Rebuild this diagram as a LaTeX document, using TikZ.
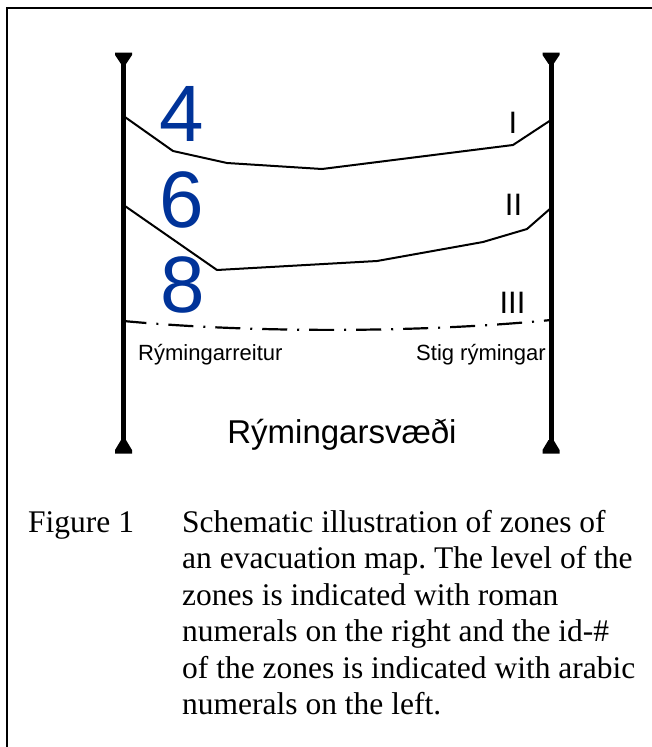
\documentclass[tikz,border=0pt]{standalone}
\usepackage{fontspec}
\setmainfont{Liberation Serif}
\newfontfamily\arialfont{Liberation Sans}
\definecolor{zoneblue}{RGB}{0,51,153}
\frenchspacing
\begin{document}
\begin{tikzpicture}[x=1pt,y=-1pt,
  post/.style={line width=5pt},
  tipfill/.style={fill=black,draw=none},
  zoneline/.style={line width=2pt,line join=round},
  boundary/.style={line width=2.2pt,dash pattern=on 25pt off 10pt on 2pt off 10pt,dash phase=2pt},
  zoneid/.style={font=\arialfont\fontsize{80}{80}\selectfont,text=zoneblue,inner sep=0pt,anchor=base},
  zonelevel/.style={font=\arialfont\fontsize{31}{31}\selectfont,inner sep=0pt,anchor=base},
  smalllabel/.style={font=\arialfont\fontsize{22}{22}\selectfont,inner sep=0pt},
  biglabel/.style={font=\arialfont\fontsize{33}{33}\selectfont,inner sep=0pt,anchor=base},
  captext/.style={font=\fontsize{31.5}{36.5}\selectfont,inner sep=0pt,anchor=base west}]
\useasboundingbox (0,0) rectangle (652,747);
% frame
\draw[line width=2.5pt] (7,747) -- (7,8) -- (652,8);
% posts
\coordinate (LT) at (123.5,53);
\coordinate (LB) at (123.5,453);
\coordinate (RT) at (551,53);
\coordinate (RB) at (551,453);
\draw[post] (LT) -- (LB);
\draw[post] (RT) -- (RB);
\foreach \px in {123.5,551}{
  \fill[tipfill] (\px-8.5,52.5) -- (\px+8.5,52.5) -- (\px+8.5,55) -- (\px+2.5,64) -- (\px-2.5,64) -- (\px-8.5,55) -- cycle;
  \fill[tipfill] (\px-2.5,440) -- (\px+2.5,440) -- (\px+8.5,450) -- (\px+8.5,453.5) -- (\px-8.5,453.5) -- (\px-8.5,450) -- cycle;
}
% zone boundaries
\draw[zoneline] (123.5,116) -- (173,151) -- (227,163) -- (322,169) -- (513,145) -- (551,120);
\draw[zoneline] (123.5,205) -- (217,270) -- (377,261) -- (483,242) -- (527,229) -- (551,208);
\draw[boundary] (123.5,321) .. controls (250,333) and (420,333) .. (551,320);
% zone ids
\node[zoneid] (id4) at (182,141) {4};
\node[zoneid] (id6) at (182,227.5) {6};
\node[zoneid] (id8) at (183,312) {8};
% zone levels
\node[zonelevel] (lv1) at (513,133) {I};
\node[zonelevel] (lv2) at (513.5,215) {II};
\node[zonelevel] (lv3) at (512.5,313) {III};
% labels
\node[smalllabel,anchor=base west] (lreit) at (138,360) {Rýmingarreitur};
\node[smalllabel,anchor=base east] (lstig) at (546,360) {Stig rýmingar};
\node[biglabel] (lsvaedi) at (342,443) {Rýmingarsvæði};
% caption
\node[captext] (fig) at (28,532) {Figure 1};
\node[captext] (c1) at (182,532) {Schematic illustration of zones of};
\node[captext] (c2) at (182,568.5) {an evacuation map. The level of the};
\node[captext] (c3) at (182,605) {zones is indicated with roman};
\node[captext] (c4) at (182,641.5) {numerals on the right and the id-\#};
\node[captext] (c5) at (182,678) {of the zones is indicated with arabic};
\node[captext] (c6) at (182,714.5) {numerals on the left.};
\end{tikzpicture}
\end{document}
